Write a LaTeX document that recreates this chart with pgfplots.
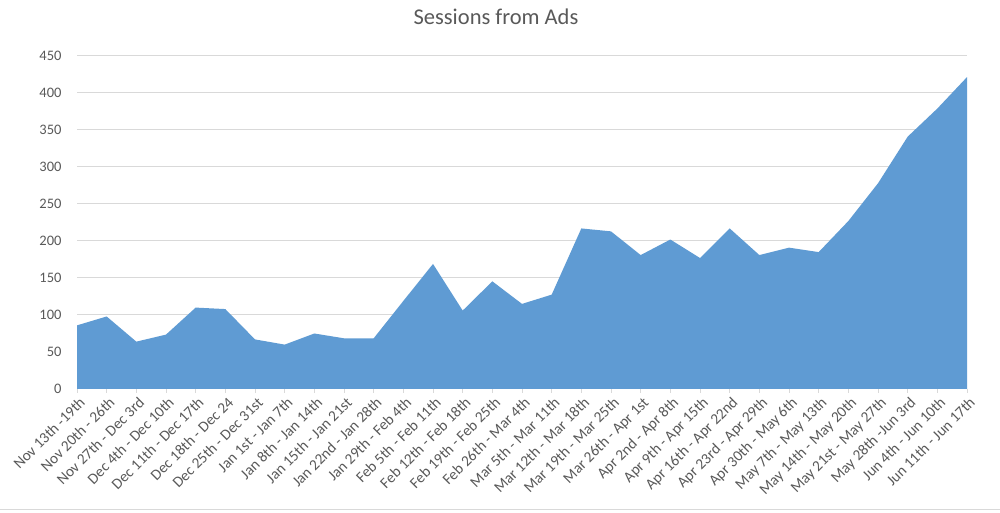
\documentclass[border=0pt]{standalone}
\usepackage{fontspec}
\setmainfont{Carlito}
\usepackage{pgfplots}
\pgfplotsset{compat=1.18}
\definecolor{areablue}{HTML}{5F9BD3}
\definecolor{gridgray}{HTML}{D9D9D9}
\definecolor{txtgray}{HTML}{595959}
\begin{document}
\begin{tikzpicture}[x=1bp,y=1bp]
\useasboundingbox (0,0) rectangle (1000,513);
\draw[gridgray, line width=1bp] (0,3) -- (1000,3);
\node[font=\fontsize{22.5bp}{26bp}\selectfont, text=txtgray] at (496,496) {Sessions from Ads};
\begin{axis}[
  at={(77bp,124bp)}, anchor=south west,
  scale only axis, width=890bp, height=333bp,
  xmin=0, xmax=30, ymin=0, ymax=450,
  ytick={0,50,...,450},
  xtick={0,...,30},
  xticklabels={Nov 13th -19th, Nov 20th - 26th, Nov 27th - Dec 3rd, Dec 4th - Dec 10th, Dec 11th - Dec 17th, Dec 18th - Dec 24, Dec 25th - Dec 31st, Jan 1st - Jan 7th, Jan 8th - Jan 14th, Jan 15th - Jan 21st, Jan 22nd - Jan 28th, Jan 29th - Feb 4th, Feb 5th - Feb 11th, Feb 12th - Feb 18th, Feb 19th - Feb 25th, Feb 26th - Mar 4th, Mar 5th - Mar 11th, Mar 12th - Mar 18th, Mar 19th - Mar 25th, Mar 26th - Apr 1st, Apr 2nd - Apr 8th, Apr 9th - Apr 15th, Apr 16th - Apr 22nd, Apr 23rd - Apr 29th, Apr 30th - May 6th, May 7th - May 13th, May 14th - May 20th, May 21st - May 27th, May 28th -Jun 3rd, Jun 4th - Jun 10th, Jun 11th - Jun 17th},
  axis lines*=left,
  y axis line style={draw=none},
  x axis line style={gridgray, line width=1bp},
  ytick style={draw=none},
  xtick style={gridgray, line width=0.8bp},
  tick align=outside,
  major tick length=4bp,
  ymajorgrids,
  grid style={gridgray, line width=1bp},
  /pgf/number format/assume math mode=true,
  yticklabel style={font=\fontsize{14.5bp}{17bp}\selectfont, text=txtgray, xshift=-8bp},
  xticklabel style={font=\fontsize{15.3bp}{18bp}\selectfont, text=txtgray, rotate=45, anchor=north east, inner sep=1bp, yshift=-2bp},
  clip=false,
]
\addplot[draw=none, fill=areablue] coordinates {
(0,86) (1,98) (2,64) (3,73.5) (4,110) (5,108) (6,67) (7,60) (8,75) (9,68.5)
(10,68.5) (11,119) (12,169) (13,106) (14,145.5) (15,115) (16,127.5) (17,217) (18,213) (19,181)
(20,202) (21,177) (22,217) (23,181) (24,191) (25,185) (26,227) (27,278) (28,341) (29,379)
(30,421.5)
} \closedcycle;
\end{axis}
\end{tikzpicture}
\end{document}
